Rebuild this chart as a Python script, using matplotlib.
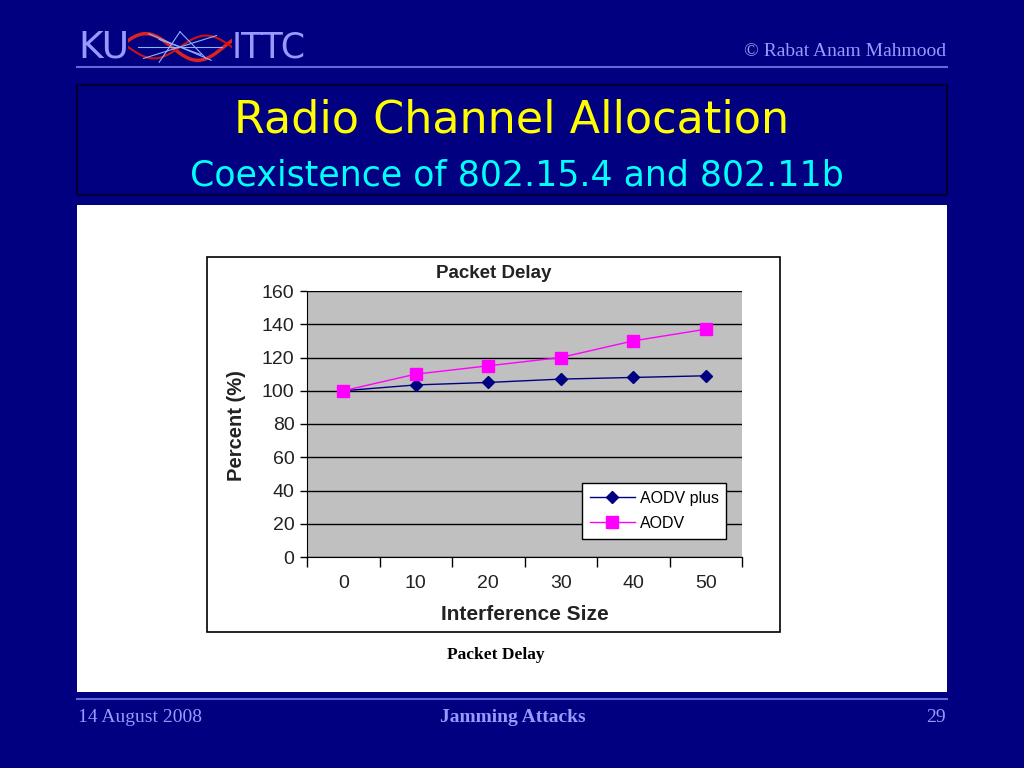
import numpy as np
import matplotlib
matplotlib.use("Agg")
import matplotlib.pyplot as plt
from matplotlib.patches import Rectangle
from matplotlib.lines import Line2D

# data
sizes = ["0", "10", "20", "30", "40", "50"]
aodv_plus = [100, 103.5, 105, 107, 108, 109]
aodv = [100, 110, 115, 120, 130, 137]
y_ticks = [0, 20, 40, 60, 80, 100, 120, 140, 160]

W, H = 1024, 768
NAVY = "#000080"
LAV = "#9999ff"
NARROW = ["Liberation Sans Narrow", "DejaVu Sans Condensed", "DejaVu Sans"]
SERIF = ["Liberation Serif", "DejaVu Serif"]
ARIAL = ["Liberation Sans", "DejaVu Sans"]


def fx(px):
    return px / W


def fy(py):
    return 1 - py / H


def box(fig, x0, y0, x1, y1, **kw):
    r = Rectangle((fx(x0), fy(y1)), fx(x1) - fx(x0), fy(y0) - fy(y1),
                  transform=fig.transFigure, **kw)
    fig.patches.append(r)


fig = plt.figure(figsize=(W / 100, H / 100), dpi=100)
fig.patch.set_facecolor(NAVY)

# header
fig.text(fx(78), fy(48), "KU", color=LAV, fontsize=27, family=NARROW,
         va="center", ha="left")
fig.text(fx(232), fy(47), "ITTC", color=LAV, fontsize=25, family=NARROW,
         va="center", ha="left")
logo = fig.add_axes([fx(128), fy(66), fx(232) - fx(128), fy(28) - fy(66)])
logo.set_axis_off()
t = np.linspace(0, 1, 100)
logo.plot(t, 0.5 + 0.35 * np.sin(2 * np.pi * t + 0.5), color="#dd2222", lw=2.5)
logo.plot(t, 0.5 - 0.3 * np.sin(2 * np.pi * t), color="#cc1111", lw=1.5)
for a, b in [((0.15, 0.2), (0.85, 0.8)), ((0.2, 0.85), (0.8, 0.15)),
             ((0.3, 0.1), (0.5, 0.9)), ((0.5, 0.9), (0.75, 0.2)),
             ((0.1, 0.5), (0.9, 0.5)), ((0.3, 0.7), (0.7, 0.3))]:
    logo.plot([a[0], b[0]], [a[1], b[1]], color="#8fb0ff", lw=0.8)
logo.set_xlim(0, 1)
logo.set_ylim(0, 1)

fig.text(fx(946), fy(52), "\u00a9 Rabat Anam Mahmood", color=LAV, fontsize=14,
         family=SERIF, ha="right", va="center")
fig.lines.append(Line2D([fx(77), fx(947)], [fy(67), fy(67)], color="#6666dd",
                        lw=1.5, transform=fig.transFigure))

# title box
box(fig, 77, 85, 947, 195, facecolor=NAVY, edgecolor="#000020", lw=1.2)
fig.text(fx(512), fy(120), "Radio Channel Allocation", color="#ffff00",
         fontsize=32, family=NARROW, ha="center", va="center")
fig.text(fx(517), fy(175), "Coexistence of 802.15.4 and 802.11b",
         color="#00ffff", fontsize=25, family=NARROW, ha="center", va="center")

# white picture area and chart frame
box(fig, 77, 205, 947, 692, facecolor="white", edgecolor="none")
box(fig, 207, 257, 780, 632, facecolor="white", edgecolor="black", lw=1.2)

ax = fig.add_axes([fx(307), fy(557), fx(742) - fx(307), fy(291) - fy(557)])
ax.set_zorder(5)
ax.set_facecolor("#c0c0c0")
x = np.arange(len(sizes))
ax.plot(x, aodv_plus, color="#000080", lw=1, marker="D", ms=6,
        label="AODV plus", zorder=3)
ax.plot(x, aodv, color="#ff00ff", lw=1, marker="s", ms=8,
        label="AODV", zorder=3)

ax.set_ylim(0, 160)
ax.set_yticks(y_ticks)
ax.yaxis.grid(True, color="black", lw=1)
ax.set_axisbelow(True)
ax.set_xlim(-0.5, len(sizes) - 0.5)
ax.set_xticks(np.arange(-0.5, len(sizes), 1.0))
ax.set_xticklabels([])
ax.set_xticks(x, minor=True)
ax.set_xticklabels(sizes, minor=True)
ax.tick_params(axis="x", which="major", length=7, width=1, direction="out")
ax.tick_params(axis="x", which="minor", length=0, pad=13, labelsize=14)
ax.tick_params(axis="y", length=5, width=1, pad=4, labelsize=14)
for lab in ax.get_xticklabels(minor=True) + ax.get_yticklabels():
    lab.set_family(ARIAL)
    lab.set_color("#222222")
ax.spines["top"].set_visible(False)
ax.spines["right"].set_visible(False)
ax.spines["left"].set_color("black")
ax.spines["bottom"].set_color("black")

fig.text(fx(494), fy(273), "Packet Delay", fontsize=13.5, fontweight="bold",
         family=ARIAL, ha="center", va="center", zorder=6, color="#222222")
fig.text(fx(525), fy(614), "Interference Size", fontsize=15,
         fontweight="bold", family=ARIAL, ha="center", va="center", zorder=6,
         color="#222222")
fig.text(fx(236), fy(426), "Percent (%)", fontsize=14.5, fontweight="bold",
         family=ARIAL, ha="center", va="center", rotation=90, zorder=6,
         color="#222222")

leg = ax.legend(loc="upper left", bbox_to_anchor=(fx(582), fy(483)),
                bbox_transform=fig.transFigure, frameon=True, fancybox=False,
                framealpha=1, edgecolor="black",
                prop={"family": ARIAL, "size": 11.5},
                borderpad=0.5, handlelength=2.8, handletextpad=0.3,
                labelspacing=0.6, borderaxespad=0)
leg.get_frame().set_linewidth(1)

fig.text(fx(496), fy(655), "Packet Delay", fontsize=12.5, fontweight="bold",
         family=SERIF, ha="center", va="center")

# footer
fig.lines.append(Line2D([fx(77), fx(947)], [fy(699), fy(699)], color="#6666dd",
                        lw=1.5, transform=fig.transFigure))
fig.text(fx(78), fy(718), "14 August 2008", color=LAV, fontsize=14,
         family=SERIF, ha="left", va="center")
fig.text(fx(513), fy(718), "Jamming Attacks", color=LAV, fontsize=14,
         fontweight="bold", family=SERIF, ha="center", va="center")
fig.text(fx(946), fy(718), "29", color=LAV, fontsize=14, family=SERIF,
         ha="right", va="center")

fig.savefig("out.png", dpi=100, facecolor=fig.get_facecolor())
